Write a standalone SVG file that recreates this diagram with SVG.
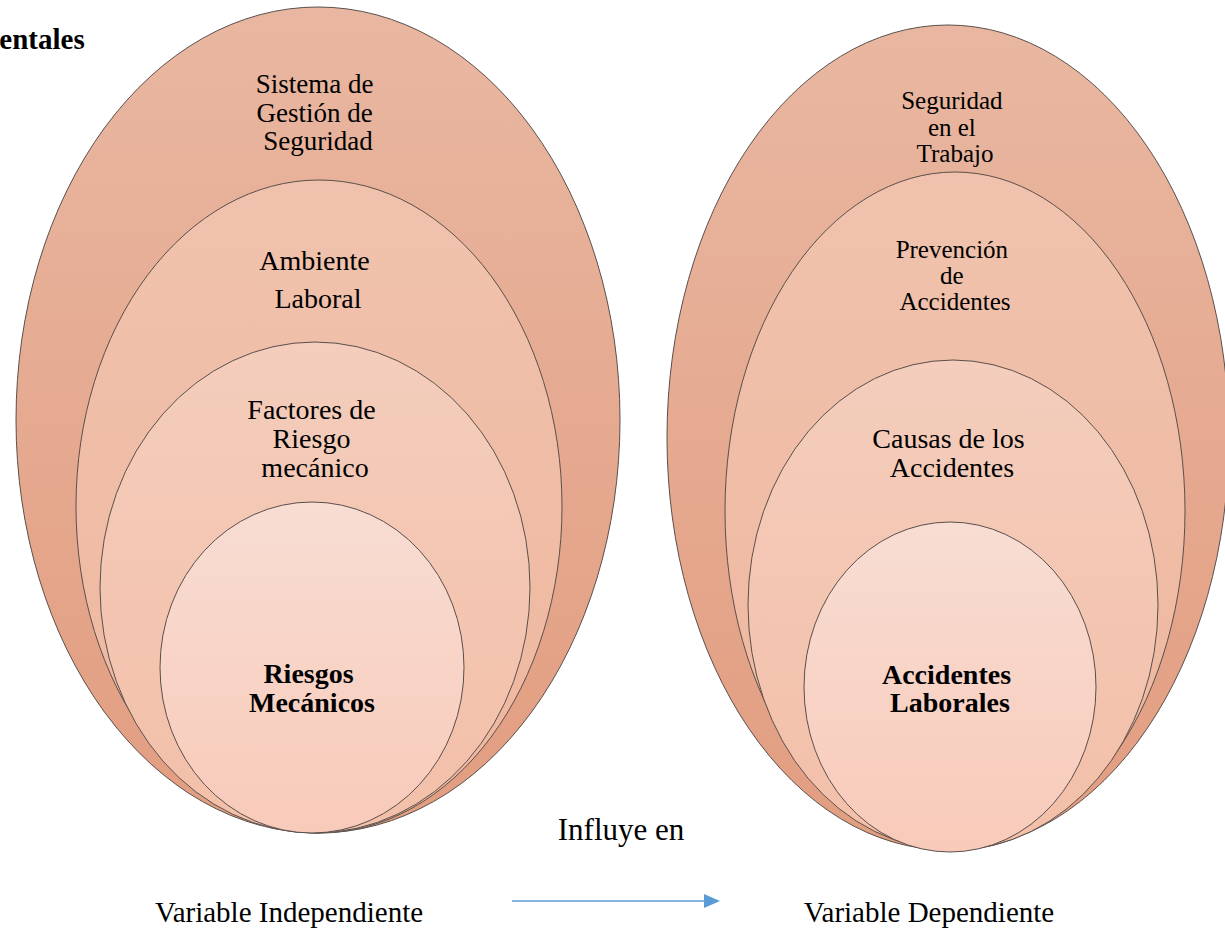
<svg xmlns="http://www.w3.org/2000/svg" width="1225" height="931" viewBox="0 0 1225 931">
  <defs>
    <linearGradient id="g1" x1="0" y1="0" x2="0" y2="1">
      <stop offset="0" stop-color="#E9B7A1"/>
      <stop offset="1" stop-color="#E29D80"/>
    </linearGradient>
    <linearGradient id="g2" x1="0" y1="0" x2="0" y2="1">
      <stop offset="0" stop-color="#F0C2AD"/>
      <stop offset="1" stop-color="#EFB79E"/>
    </linearGradient>
    <linearGradient id="g3" x1="0" y1="0" x2="0" y2="1">
      <stop offset="0" stop-color="#F4CDBC"/>
      <stop offset="1" stop-color="#F3BFA8"/>
    </linearGradient>
    <linearGradient id="g4" x1="0" y1="0" x2="0" y2="1">
      <stop offset="0" stop-color="#F8DDD3"/>
      <stop offset="1" stop-color="#F8CAB9"/>
    </linearGradient>
    <marker id="arrow" markerWidth="16" markerHeight="14" refX="1" refY="7" orient="auto" markerUnits="userSpaceOnUse" viewBox="0 0 16 14">
      <path d="M0,0 L16,7 L0,14 Z" fill="#5B9BD5"/>
    </marker>
  </defs>
  <style>
    .ring { stroke: #5a4f4b; stroke-width: 1; }
    .l1 { fill: url(#g1); }
    .l2 { fill: url(#g2); }
    .l3 { fill: url(#g3); }
    .l4 { fill: url(#g4); }
    .b { font-weight: bold; }
  </style>

  <rect width="1225" height="931" fill="#FFFFFF"/>

  <g font-family="Liberation Serif, Times New Roman, DejaVu Serif, serif" fill="#000" text-anchor="middle">

  <!-- heading fragment -->
  <text class="b" x="42" y="49" font-size="29">entales</text>

  <!-- independent variable: nested rings -->
  <g id="sistema-gestion">
    <ellipse class="ring l1" cx="318" cy="420" rx="302" ry="413"/>
    <text font-size="27">
      <tspan x="318" y="93">Sistema de</tspan>
      <tspan x="318" y="122">Gestión de</tspan>
      <tspan x="318" y="150">Seguridad</tspan>
    </text>
  </g>
  <g id="ambiente-laboral">
    <ellipse class="ring l2" cx="319" cy="506.5" rx="243" ry="326.5"/>
    <text font-size="28">
      <tspan x="318" y="270">Ambiente</tspan>
      <tspan x="318" y="308">Laboral</tspan>
    </text>
  </g>
  <g id="factores-riesgo">
    <ellipse class="ring l3" cx="315" cy="587.5" rx="215" ry="245.5"/>
    <text font-size="28">
      <tspan x="315" y="419">Factores de</tspan>
      <tspan x="315" y="448">Riesgo</tspan>
      <tspan x="315" y="477">mecánico</tspan>
    </text>
  </g>
  <g id="riesgos-mecanicos">
    <ellipse class="ring l4" cx="312" cy="667.5" rx="152" ry="165.5"/>
    <text class="b" font-size="28">
      <tspan x="312" y="683">Riesgos</tspan>
      <tspan x="312" y="712">Mecánicos</tspan>
    </text>
  </g>

  <!-- dependent variable: nested rings -->
  <g id="seguridad-trabajo">
    <ellipse class="ring l1" cx="948" cy="437.5" rx="281" ry="412.5"/>
    <text font-size="25">
      <tspan x="955" y="109">Seguridad</tspan>
      <tspan x="955" y="136">en el</tspan>
      <tspan x="955" y="162">Trabajo</tspan>
    </text>
  </g>
  <g id="prevencion-accidentes">
    <ellipse class="ring l2" cx="955" cy="511" rx="230" ry="339"/>
    <text font-size="25">
      <tspan x="955" y="258">Prevención</tspan>
      <tspan x="955" y="284">de</tspan>
      <tspan x="955" y="310">Accidentes</tspan>
    </text>
  </g>
  <g id="causas-accidentes">
    <ellipse class="ring l3" cx="953" cy="605" rx="205" ry="245"/>
    <text font-size="28">
      <tspan x="952" y="448">Causas de los</tspan>
      <tspan x="952" y="477">Accidentes</tspan>
    </text>
  </g>
  <g id="accidentes-laborales">
    <ellipse class="ring l4" cx="950" cy="687" rx="146" ry="165"/>
    <text class="b" font-size="28">
      <tspan x="950" y="684">Accidentes</tspan>
      <tspan x="950" y="712">Laborales</tspan>
    </text>
  </g>

  <!-- labels -->
  <g id="labels">
    <text x="621" y="840" font-size="31">Influye en</text>
    <text x="289" y="922" font-size="29">Variable Independiente</text>
    <text x="929" y="922" font-size="29">Variable Dependiente</text>
  </g>
  </g>

  <!-- connector between the two variables -->
  <g id="connectors">
    <line x1="512" y1="901" x2="705" y2="901" stroke="#5B9BD5" stroke-width="1.5" marker-end="url(#arrow)"/>
  </g>
</svg>
